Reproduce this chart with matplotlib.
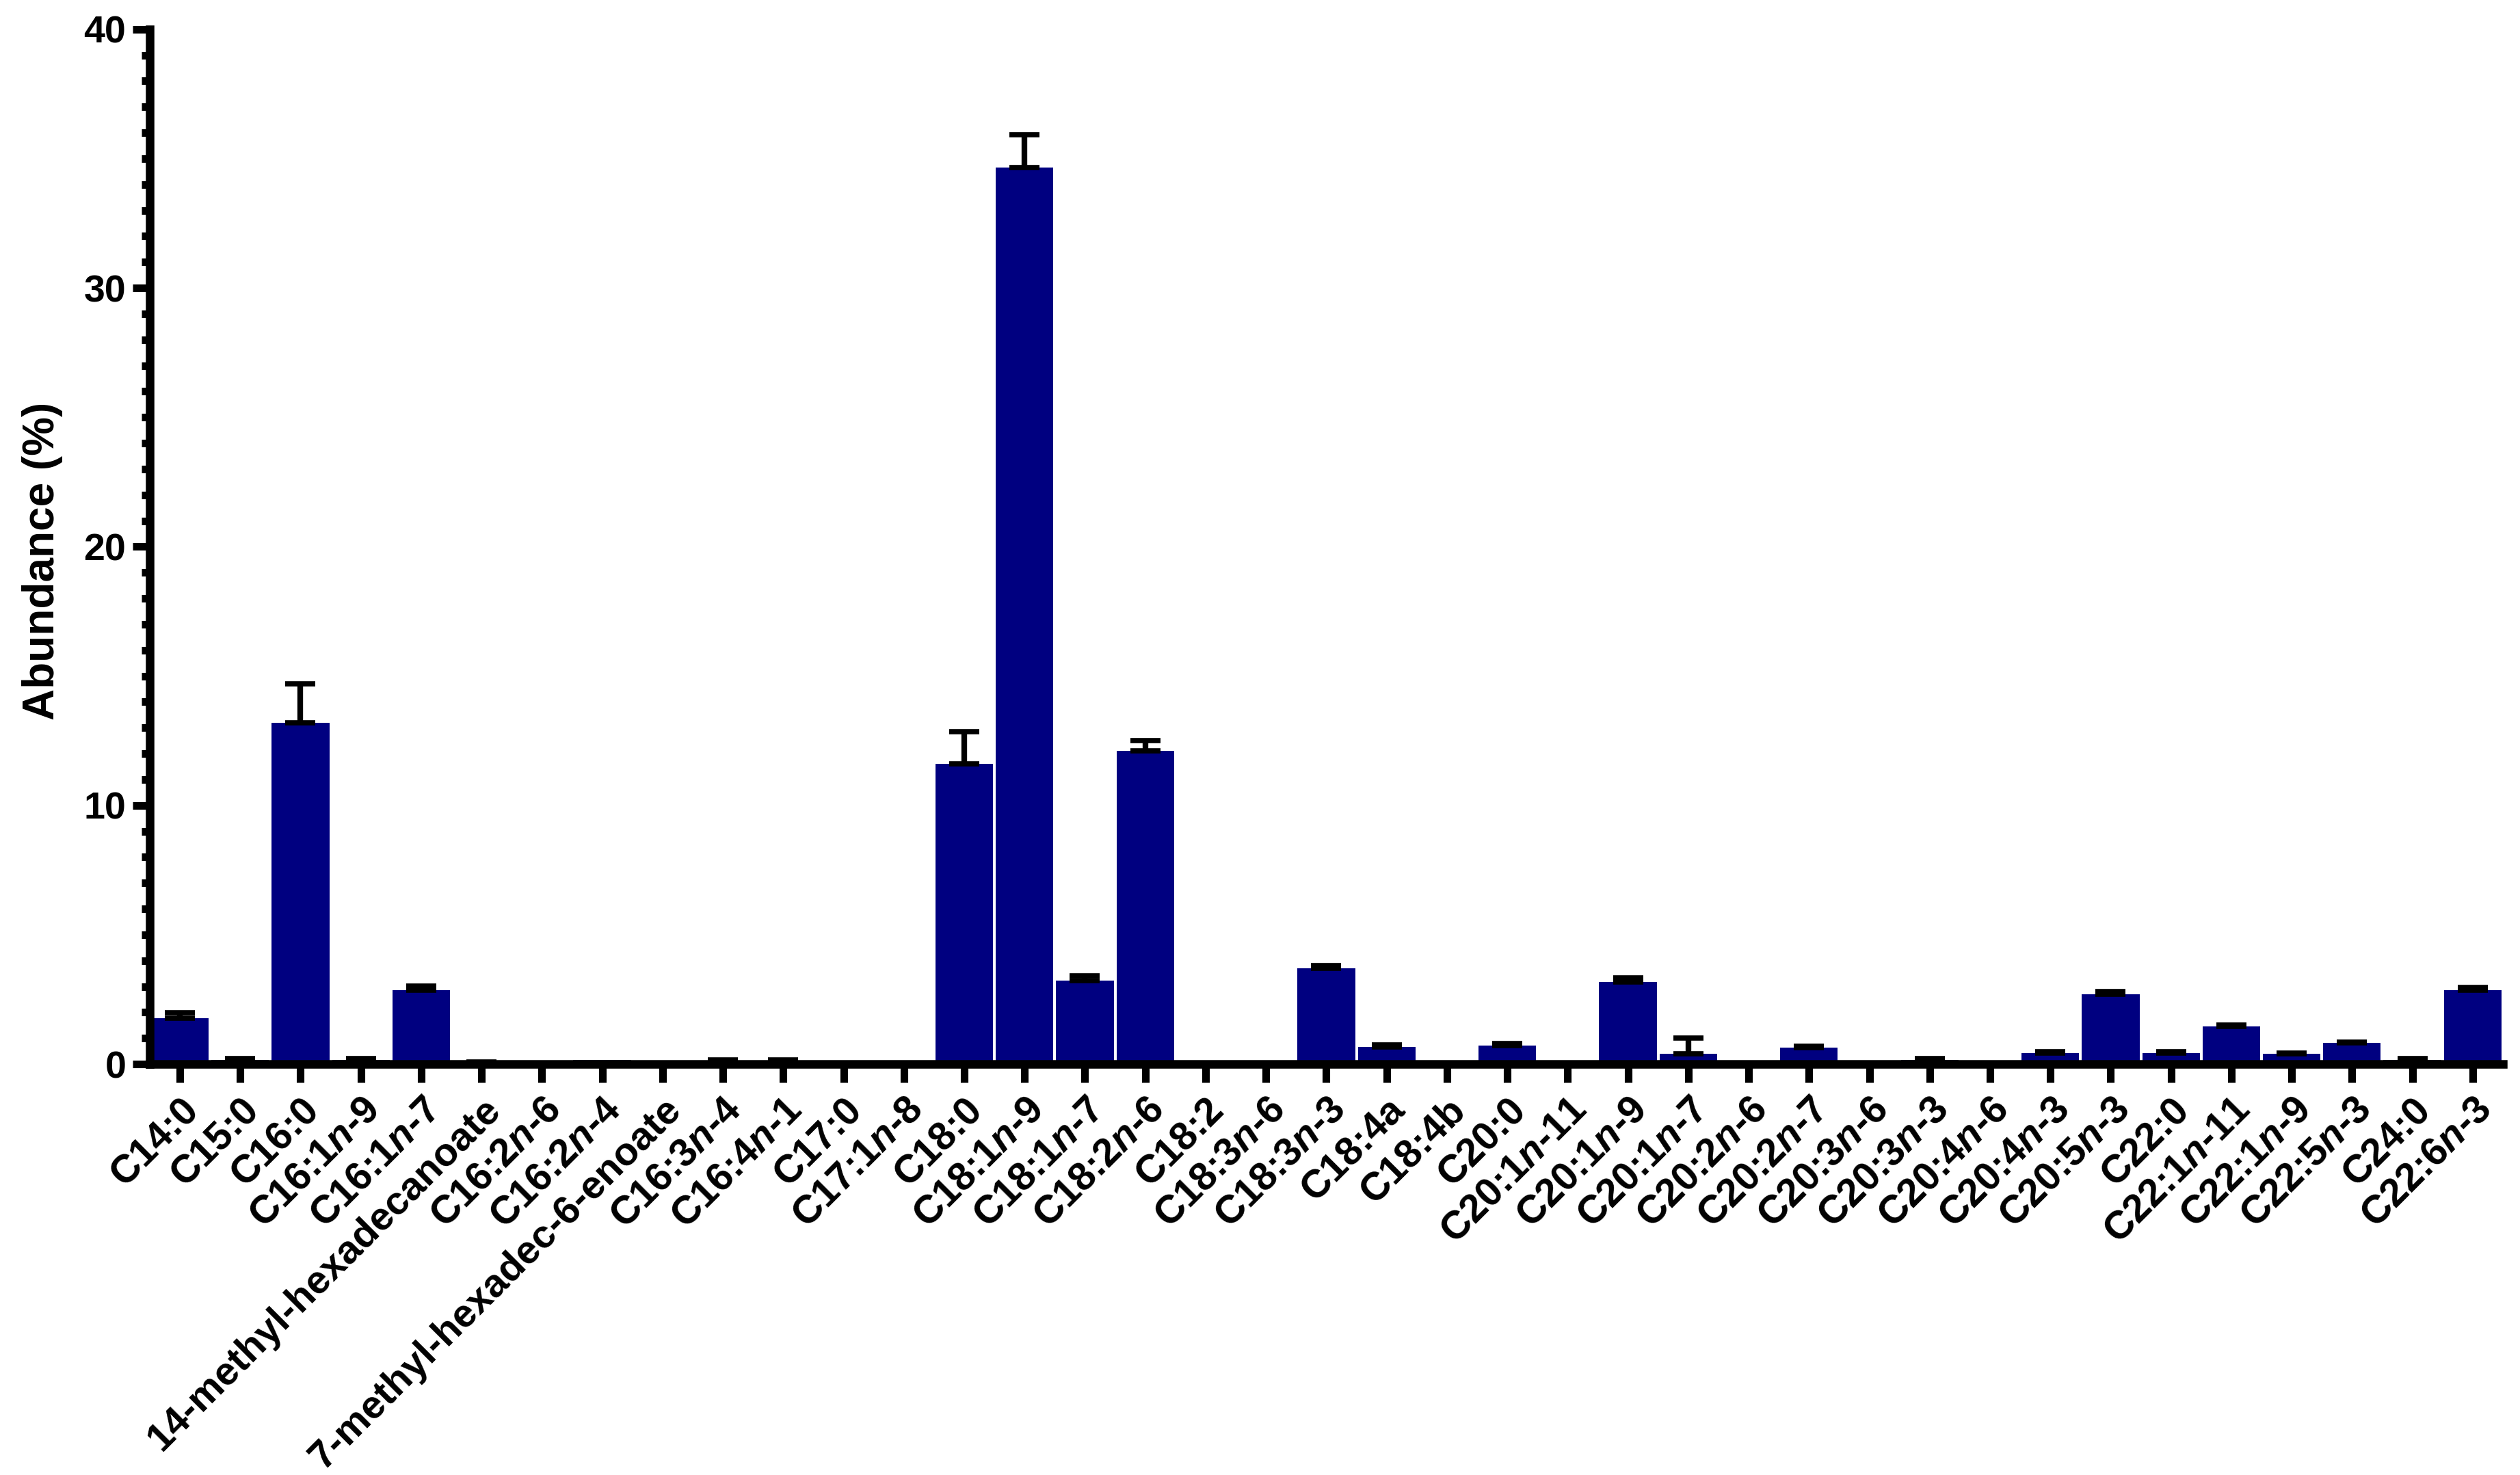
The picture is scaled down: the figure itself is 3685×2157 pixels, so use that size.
import matplotlib
matplotlib.use("Agg")
import matplotlib.pyplot as plt
from matplotlib.ticker import MultipleLocator
import numpy as np

plt.rcParams['font.family'] = ['Liberation Sans', 'DejaVu Sans']
plt.rcParams['font.weight'] = 'bold'
plt.rcParams['mathtext.fontset'] = 'custom'
plt.rcParams['mathtext.it'] = 'Liberation Sans:italic:bold'
plt.rcParams['mathtext.rm'] = 'Liberation Sans:bold'
plt.rcParams['mathtext.bf'] = 'Liberation Sans:bold'

categories = [
    "C14:0", "C15:0", "C16:0", "C16:1$n$-9", "C16:1$n$-7",
    "14-methyl-hexadecanoate", "C16:2$n$-6", "C16:2$n$-4",
    "7-methyl-hexadec-6-enoate", "C16:3$n$-4", "C16:4$n$-1", "C17:0",
    "C17:1$n$-8", "C18:0", "C18:1$n$-9", "C18:1$n$-7", "C18:2$n$-6",
    "C18:2", "C18:3$n$-6", "C18:3$n$-3", "C18:4a", "C18:4b", "C20:0",
    "C20:1$n$-11", "C20:1$n$-9", "C20:1$n$-7", "C20:2$n$-6", "C20:2$n$-7",
    "C20:3$n$-6", "C20:3$n$-3", "C20:4$n$-6", "C20:4$n$-3", "C20:5$n$-3",
    "C22:0", "C22:1$n$-11", "C22:1$n$-9", "C22:5$n$-3", "C24:0",
    "C22:6$n$-3",
]

abundance = [
    1.78, 0.17, 13.2, 0.17, 2.86, 0.05, 0.0, 0.15, 0.0, 0.05, 0.05, 0.0,
    0.0, 11.6, 34.66, 3.23, 12.1, 0.0, 0.0, 3.71, 0.67, 0.0, 0.72, 0.0,
    3.18, 0.41, 0.0, 0.64, 0.0, 0.16, 0.0, 0.43, 2.70, 0.43, 1.46, 0.41,
    0.83, 0.16, 2.86,
]

error = [
    0.2, 0.04, 1.5, 0.05, 0.15, 0.03, 0.0, 0.0, 0.0, 0.1, 0.1, 0.0,
    0.0, 1.25, 1.27, 0.17, 0.4, 0.0, 0.0, 0.1, 0.07, 0.0, 0.07, 0.0,
    0.16, 0.6, 0.0, 0.05, 0.0, 0.05, 0.0, 0.05, 0.1, 0.05, 0.05, 0.02,
    0.03, 0.05, 0.1,
]

yticks = [0, 10, 20, 30, 40]

x = np.arange(len(categories))
vals = np.array(abundance)
errs = np.array(error)

fig = plt.figure(figsize=(36.85, 21.57), dpi=100)
ax = fig.add_axes([0.0594, 0.2786, 0.9932 - 0.0594, 0.9802 - 0.2786])

ax.bar(x, vals, width=0.955, color='#000080', zorder=2)
m = errs > 0
ax.errorbar(x[m], vals[m], yerr=[np.zeros(m.sum()), errs[m]], fmt='none',
            ecolor='black', elinewidth=6, capsize=15.5, capthick=5.5,
            zorder=3)

ax.set_xlim(-0.5, len(categories) - 0.5)
ax.set_ylim(0, 40)
ax.set_yticks(yticks)
ax.yaxis.set_minor_locator(MultipleLocator(1))

for s in ['top', 'right']:
    ax.spines[s].set_visible(False)
for s in ['left', 'bottom']:
    ax.spines[s].set_linewidth(9)
    ax.spines[s].set_capstyle('projecting')
    ax.spines[s].set_zorder(4)

ax.tick_params(axis='y', which='major', length=18, width=8, pad=7,
               labelsize=40, direction='out')
ax.tick_params(axis='y', which='minor', length=8.6, width=8, direction='out')
ax.tick_params(axis='x', which='major', length=19.5, width=8, pad=9,
               labelsize=41.5, direction='out')

ax.set_xticks(x)
ax.set_xticklabels(categories, rotation=45, ha='right',
                   rotation_mode='anchor')
for lab in ax.get_yticklabels():
    lab.set_fontweight('bold')

ax.set_ylabel('Abundance (%)', fontsize=46, fontweight='bold')
ax.yaxis.set_label_coords(-0.037, 0.486)

fig.savefig('out.png', dpi=100)
